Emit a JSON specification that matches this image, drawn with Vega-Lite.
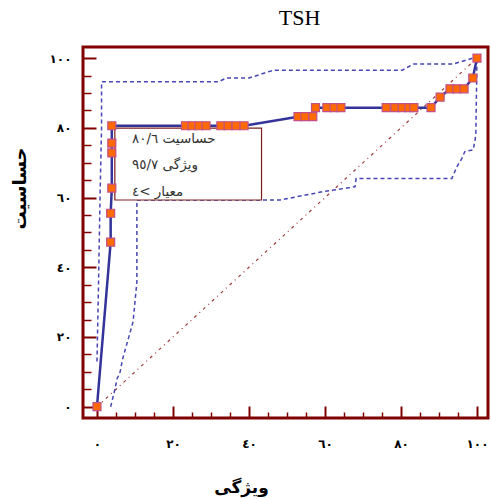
{
  "$schema": "https://vega.github.io/schema/vega-lite/v6.json",
  "width": 405,
  "height": 371,
  "autosize": {"type": "none"},
  "padding": {"left": 83, "top": 47, "right": 3, "bottom": 81},
  "background": "white",
  "title": {"text": "TSH", "font": "Liberation Serif", "fontSize": 22, "fontWeight": "normal", "color": "#000000", "anchor": "middle", "dx": 14, "dy": 20, "offset": 20, "baseline": "alphabetic", "frame": "group"},
  "config": {"view": {"stroke": "#800000", "strokeWidth": 3}, "font": "DejaVu Sans"},
  "datasets": {
    "roc": [
      {"i": 1, "x": 0, "y": 0}, {"i": 2, "x": 3.6, "y": 47.2}, {"i": 3, "x": 3.6, "y": 55.5}, {"i": 4, "x": 3.9, "y": 62.7},
      {"i": 5, "x": 3.9, "y": 72.8}, {"i": 6, "x": 3.9, "y": 75.6}, {"i": 7, "x": 3.9, "y": 80.6},
      {"i": 8, "x": 23.3, "y": 80.6}, {"i": 9, "x": 25.0, "y": 80.6}, {"i": 10, "x": 26.8, "y": 80.6}, {"i": 11, "x": 28.7, "y": 80.6},
      {"i": 12, "x": 32.6, "y": 80.6}, {"i": 13, "x": 34.5, "y": 80.6}, {"i": 14, "x": 36.6, "y": 80.6}, {"i": 15, "x": 38.7, "y": 80.6},
      {"i": 16, "x": 52.9, "y": 83.2}, {"i": 17, "x": 54.7, "y": 83.2}, {"i": 18, "x": 56.8, "y": 83.2},
      {"i": 19, "x": 57.5, "y": 85.8}, {"i": 20, "x": 60.5, "y": 85.8}, {"i": 21, "x": 62.4, "y": 85.8}, {"i": 22, "x": 64.2, "y": 85.8},
      {"i": 23, "x": 76.1, "y": 85.8}, {"i": 24, "x": 78.4, "y": 85.8}, {"i": 25, "x": 80.3, "y": 85.8}, {"i": 26, "x": 82.1, "y": 85.8},
      {"i": 27, "x": 83.4, "y": 85.8}, {"i": 28, "x": 87.9, "y": 85.8},
      {"i": 29, "x": 90.3, "y": 88.8}, {"i": 30, "x": 92.9, "y": 91.2}, {"i": 31, "x": 94.7, "y": 91.2}, {"i": 32, "x": 96.6, "y": 91.2},
      {"i": 33, "x": 98.9, "y": 94.3}, {"i": 34, "x": 100, "y": 100}
    ],
    "upper": [
      {"i": 1, "x": 0, "y": 13}, {"i": 2, "x": 0.4, "y": 35}, {"i": 3, "x": 0.8, "y": 60}, {"i": 4, "x": 1.2, "y": 80},
      {"i": 5, "x": 1.2, "y": 93.2}, {"i": 6, "x": 32, "y": 93.2}, {"i": 7, "x": 34, "y": 94.3}, {"i": 8, "x": 40, "y": 94.3},
      {"i": 9, "x": 46.3, "y": 96.5}, {"i": 10, "x": 80.3, "y": 96.5}, {"i": 11, "x": 83.2, "y": 98.3}, {"i": 12, "x": 93.7, "y": 98.3},
      {"i": 13, "x": 98.9, "y": 100}, {"i": 14, "x": 100, "y": 100}
    ],
    "lower": [
      {"i": 1, "x": 3.6, "y": 0}, {"i": 2, "x": 4.5, "y": 4}, {"i": 3, "x": 5.3, "y": 8}, {"i": 4, "x": 6.1, "y": 10},
      {"i": 5, "x": 6.7, "y": 13.5}, {"i": 6, "x": 7.8, "y": 17.8}, {"i": 7, "x": 8.4, "y": 20.1}, {"i": 8, "x": 9.5, "y": 24.4},
      {"i": 9, "x": 10.5, "y": 35.8}, {"i": 10, "x": 10.5, "y": 59.3}, {"i": 11, "x": 48.2, "y": 59.3}, {"i": 12, "x": 59.5, "y": 61.7},
      {"i": 13, "x": 67.9, "y": 63.1}, {"i": 14, "x": 68.2, "y": 65.5}, {"i": 15, "x": 93.4, "y": 65.5}, {"i": 16, "x": 94.7, "y": 68.8},
      {"i": 17, "x": 96.0, "y": 71.2}, {"i": 18, "x": 96.8, "y": 73.2}, {"i": 19, "x": 99.0, "y": 73.7}, {"i": 20, "x": 99.5, "y": 76.5},
      {"i": 21, "x": 99.7, "y": 78.4}, {"i": 22, "x": 99.9, "y": 92.7}, {"i": 23, "x": 100, "y": 100}
    ],
    "diag": [{"i": 1, "x": 0, "y": 0}, {"i": 2, "x": 100, "y": 100}],
    "box": [{"x": 4.7, "x2": 43.3, "y": 59.3, "y2": 79.9}],
    "notes": [
      {"x": 9.2, "y": 76.8, "label": "٨٠/٦\u200E حساسیت"},
      {"x": 9.2, "y": 69.3, "label": "٩٥/٧\u200E ویژگی"},
      {"x": 9.2, "y": 61.6, "label": "٤\u200E<\u200E معیار"}
    ]
  },
  "encoding": {
    "x": {
      "field": "x", "type": "quantitative",
      "scale": {"domain": [-3.68, 102.9], "nice": false, "zero": false},
      "axis": {
        "title": "ویژگی",
        "values": [0, 5, 10, 15, 20, 25, 30, 35, 40, 45, 50, 55, 60, 65, 70, 75, 80, 85, 90, 95, 100],
        "domain": false, "grid": false,
        "tickColor": "#800000",
        "tickSize": {"condition": {"test": "datum.value % 20 === 0", "value": -12}, "value": -6},
        "tickWidth": {"condition": {"test": "datum.value % 20 === 0", "value": 2}, "value": 1.5},
        "labelExpr": "datum.value === 0 ? '٠' : datum.value === 20 ? '٢٠' : datum.value === 40 ? '٤٠' : datum.value === 60 ? '٦٠' : datum.value === 80 ? '٨٠' : datum.value === 100 ? '١٠٠' : ''",
        "labelFont": "DejaVu Sans", "labelFontSize": 12, "labelFontWeight": "bold", "labelColor": "#000000",
        "labelPadding": 32, "labelOverlap": false, "labelFlush": false, "labelBound": false,
        "titleFont": "DejaVu Sans", "titleFontSize": 17, "titleFontWeight": "bold", "titleColor": "#000000",
        "titleX": 158, "titleY": 69, "titleAlign": "center", "titleBaseline": "middle", "titleAngle": 0
      }
    },
    "y": {
      "field": "y", "type": "quantitative",
      "scale": {"domain": [-3.24, 103.2], "nice": false, "zero": false},
      "axis": {
        "title": "حساسیت",
        "values": [0, 5, 10, 15, 20, 25, 30, 35, 40, 45, 50, 55, 60, 65, 70, 75, 80, 85, 90, 95, 100],
        "domain": false, "grid": false,
        "tickColor": "#800000",
        "tickSize": {"condition": {"test": "datum.value % 20 === 0", "value": -13}, "value": -8},
        "tickWidth": {"condition": {"test": "datum.value % 20 === 0", "value": 2}, "value": 1.5},
        "labelExpr": "datum.value === 0 ? '٠' : datum.value === 20 ? '٢٠' : datum.value === 40 ? '٤٠' : datum.value === 60 ? '٦٠' : datum.value === 80 ? '٨٠' : datum.value === 100 ? '١٠٠' : ''",
        "labelFont": "DejaVu Sans", "labelFontSize": 12, "labelFontWeight": "bold", "labelColor": "#000000",
        "labelPadding": 25, "labelAlign": "right", "labelBaseline": "middle", "labelOverlap": false, "labelFlush": false, "labelBound": false,
        "titleFont": "DejaVu Sans", "titleFontSize": 18, "titleFontWeight": "bold", "titleColor": "#000000",
        "titleX": -63, "titleY": 141, "titleAlign": "center", "titleBaseline": "middle", "titleAngle": -90
      }
    }
  },
  "layer": [
    {
      "data": {"name": "diag"},
      "mark": {"type": "line", "color": "#a03a3a", "strokeWidth": 1.2, "strokeDash": [3, 4, 1, 4]},
      "encoding": {"order": {"field": "i", "type": "quantitative"}}
    },
    {
      "data": {"name": "upper"},
      "mark": {"type": "line", "color": "#4646b4", "strokeWidth": 1.5, "strokeDash": [4, 3]},
      "encoding": {"order": {"field": "i", "type": "quantitative"}}
    },
    {
      "data": {"name": "lower"},
      "mark": {"type": "line", "color": "#4646b4", "strokeWidth": 1.5, "strokeDash": [4, 3]},
      "encoding": {"order": {"field": "i", "type": "quantitative"}}
    },
    {
      "data": {"name": "box"},
      "mark": {"type": "rect", "fill": "#ffffff", "stroke": "#7a1e1e", "strokeWidth": 1.2},
      "encoding": {"x2": {"field": "x2"}, "y2": {"field": "y2"}}
    },
    {
      "data": {"name": "notes"},
      "mark": {"type": "text", "align": "left", "baseline": "middle", "font": "DejaVu Sans", "fontSize": 13.5, "color": "#333333"},
      "encoding": {"text": {"field": "label", "type": "nominal"}}
    },
    {
      "data": {"name": "roc"},
      "mark": {"type": "line", "color": "#33339a", "strokeWidth": 2.5},
      "encoding": {"order": {"field": "i", "type": "quantitative"}}
    },
    {
      "data": {"name": "roc"},
      "mark": {"type": "point", "shape": "square", "filled": true, "size": 64, "fill": "#ff6a00", "stroke": "#c0508a", "strokeWidth": 1.2, "opacity": 1}
    }
  ]
}
